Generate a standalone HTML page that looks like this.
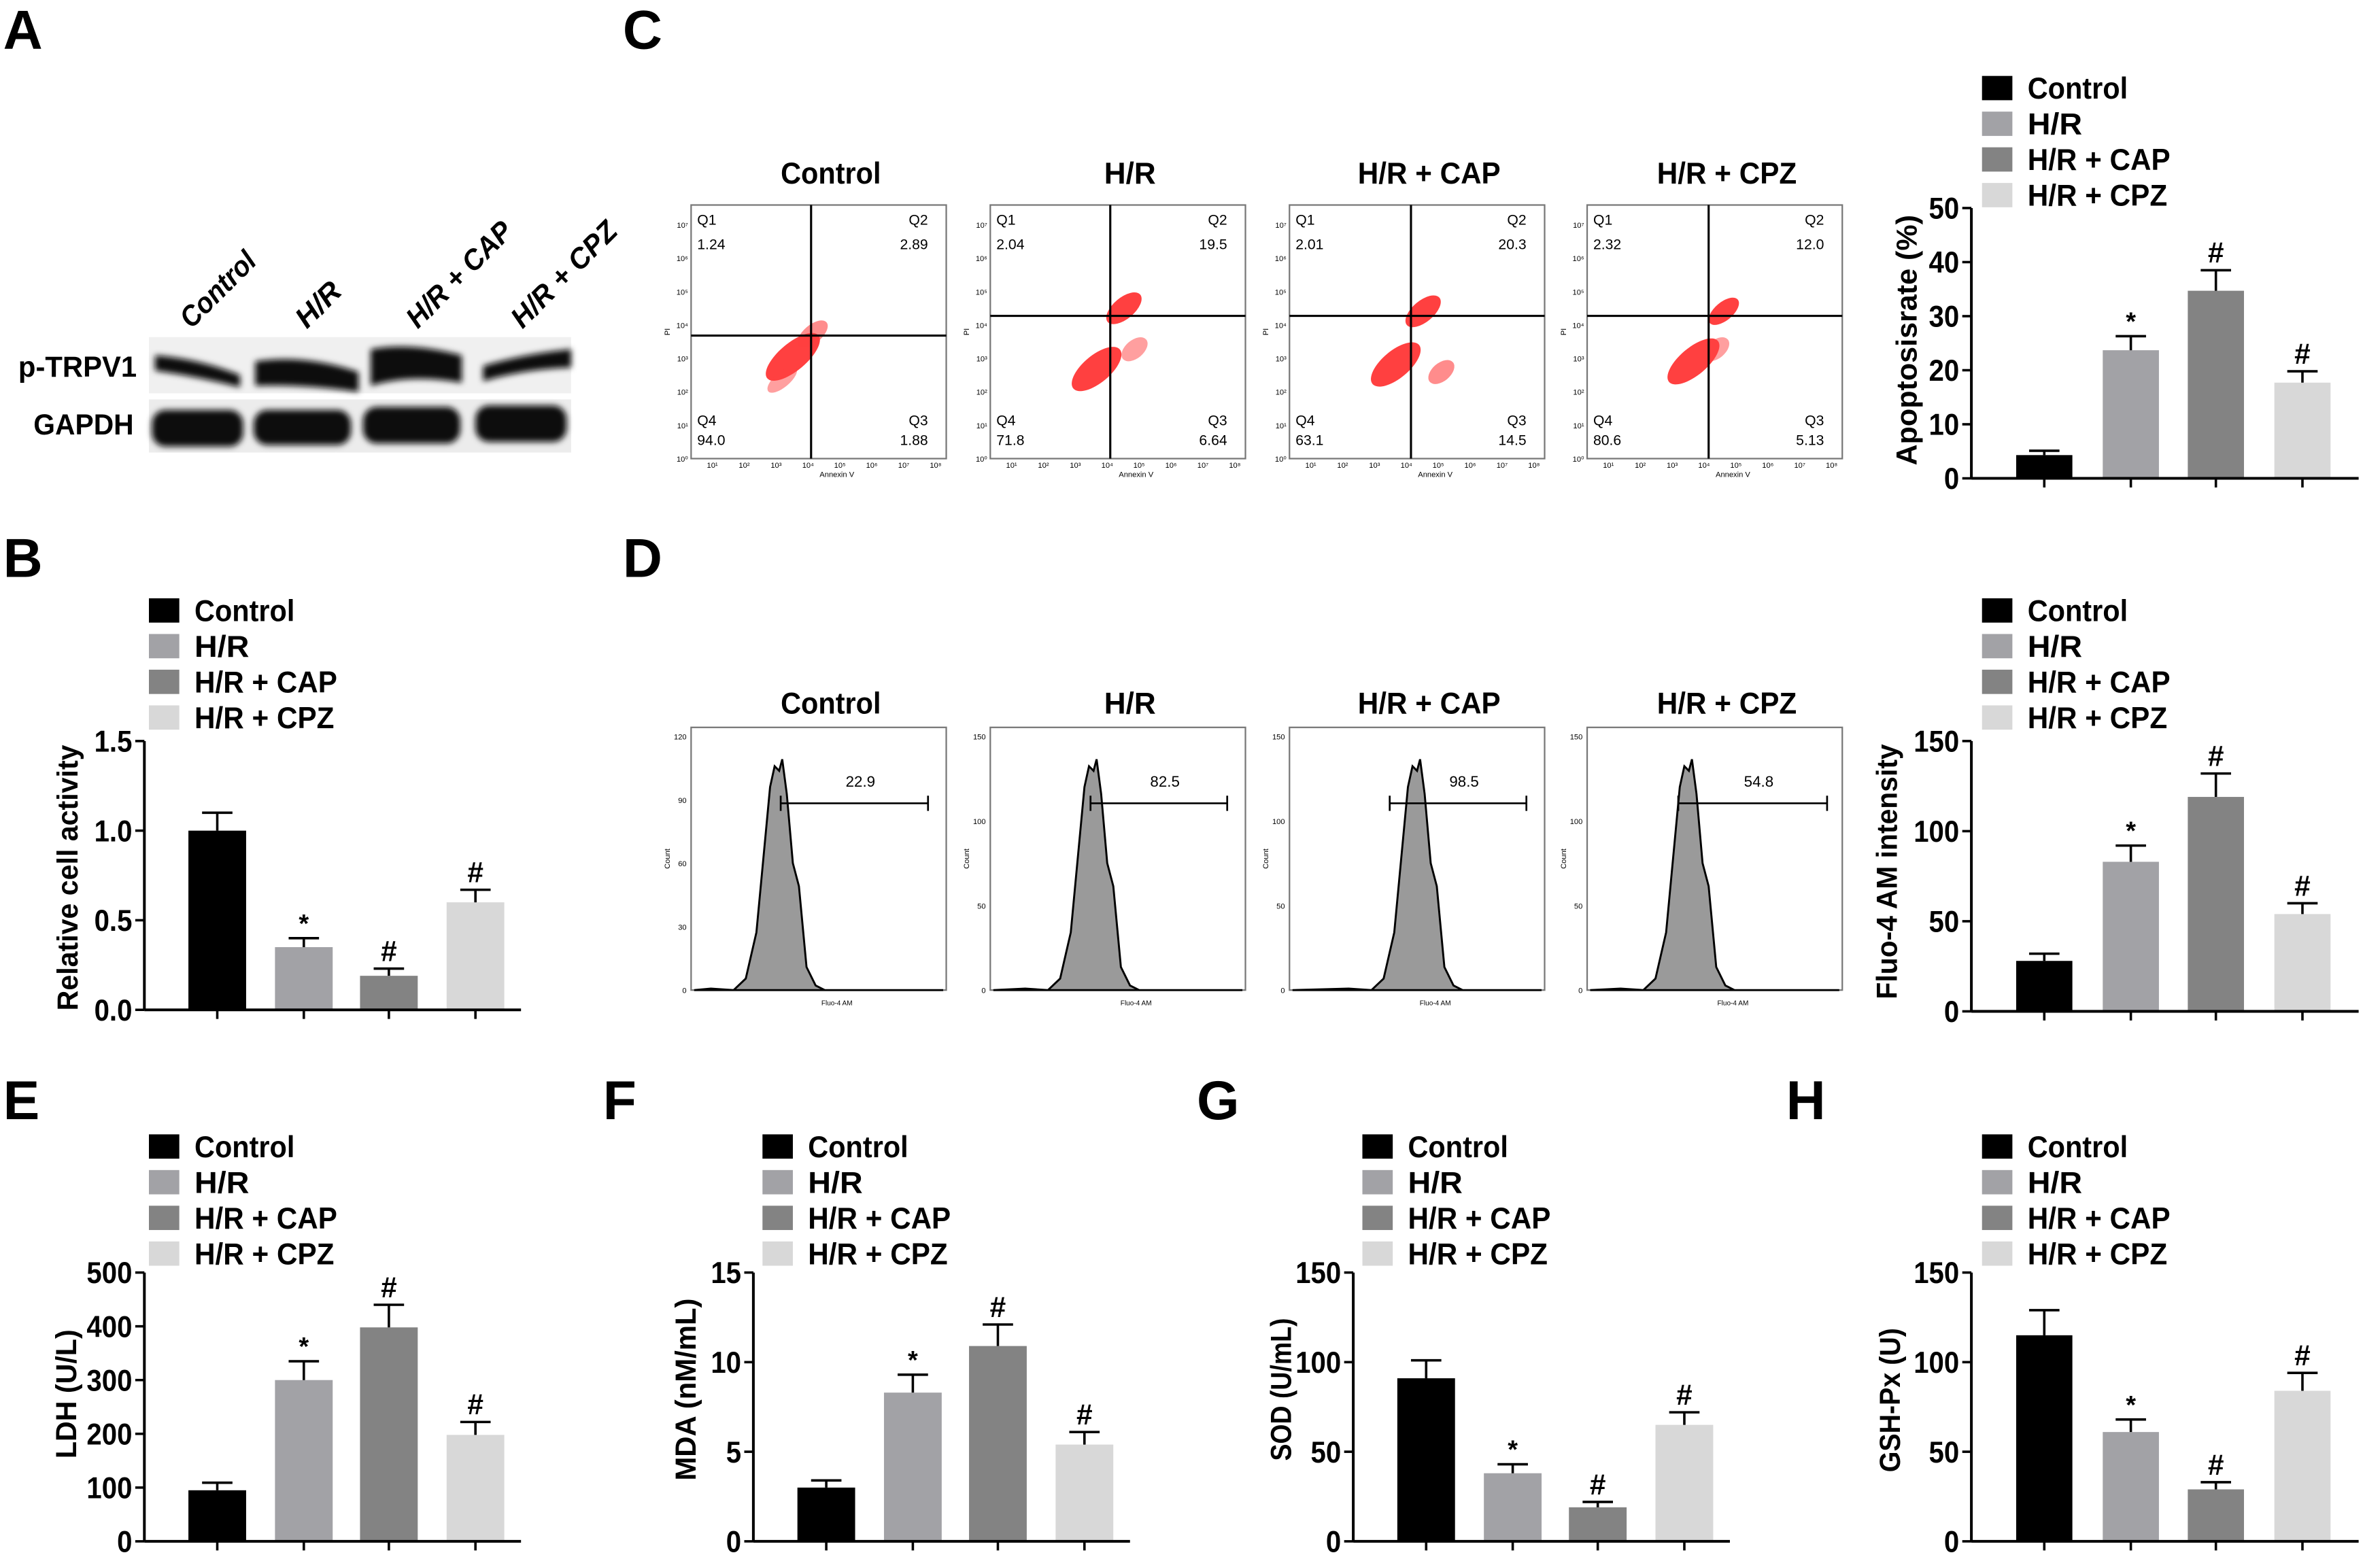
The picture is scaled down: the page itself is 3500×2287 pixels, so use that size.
<!DOCTYPE html>
<html><head><meta charset="utf-8">
<style>
html,body{margin:0;padding:0;background:#fff;}
svg{display:block;}
text{font-family:"Liberation Sans Narrow","Liberation Sans",sans-serif;font-weight:bold;}
.thin{font-family:"Liberation Sans",sans-serif;font-weight:normal;}
</style></head>
<body>
<svg id="fig" xmlns="http://www.w3.org/2000/svg" width="3500" height="2287" viewBox="0 0 1567 1024">
<rect x="0" y="0" width="1567" height="1024" fill="#fff"/>
<g font-size="36">
<text x="2" y="32">A</text>
<text x="2" y="380">B</text>
<text x="410" y="32">C</text>
<text x="410" y="380">D</text>
<text x="2" y="737">E</text>
<text x="397" y="737">F</text>
<text x="788" y="737">G</text>
<text x="1176" y="737">H</text>
</g>
<g>
<defs><filter id="blur" x="-20%" y="-50%" width="140%" height="200%"><feGaussianBlur stdDeviation="2"/></filter></defs>
<rect x="98" y="222" width="278" height="37" fill="#f0f0f0"/>
<rect x="98" y="263" width="278" height="35" fill="#ececec"/>
<g filter="url(#blur)" fill="#080808">
<path d="M102,234 Q130,236 158,247 L158,255 Q130,248 102,244 Z"/>
<path d="M168,238 Q200,233 236,245 L236,258 Q200,253 168,254 Z"/>
<path d="M244,230 Q270,225 304,234 L304,252 Q270,246 244,254 Z"/>
<path d="M318,241 Q345,233 376,230 L376,242 Q345,243 318,251 Z"/>
<rect x="100" y="270" width="60" height="24" rx="9"/>
<rect x="167" y="270" width="64" height="23" rx="9"/>
<rect x="239" y="268" width="64" height="24" rx="9"/>
<rect x="313" y="267" width="60" height="24" rx="9"/>
</g>
<text x="12" y="248" font-size="19" textLength="78" lengthAdjust="spacingAndGlyphs">p-TRPV1</text>
<text x="22" y="286" font-size="19" textLength="66" lengthAdjust="spacingAndGlyphs">GAPDH</text>
<g font-size="19" font-style="italic">
<text transform="translate(126,217) rotate(-45)" textLength="62" lengthAdjust="spacingAndGlyphs">Control</text>
<text transform="translate(202,217) rotate(-45)" textLength="34" lengthAdjust="spacingAndGlyphs">H/R</text>
<text transform="translate(275,217) rotate(-45)" textLength="90" lengthAdjust="spacingAndGlyphs">H/R + CAP</text>
<text transform="translate(344,217) rotate(-45)" textLength="90" lengthAdjust="spacingAndGlyphs">H/R + CPZ</text>
</g>
</g>
<g id="flow"></g>
<g id="hist"></g>
<g id="bars"></g>
</svg>
<script>
const NS='http://www.w3.org/2000/svg';
function mk(tag,attrs,parent,txt){const e=document.createElementNS(NS,tag);for(const k in attrs)e.setAttribute(k,attrs[k]);if(txt!==undefined)e.textContent=txt;parent.appendChild(e);return e;}

const groups=['Control','H/R','H/R + CAP','H/R + CPZ'];
const legendLen=[66,36,94,92];
const colors=['#000000','#a2a2a6','#838383','#d8d8d8'];
const sigMarks=['','*','#','#'];

const apopVals=[4.3,23.7,34.7,17.7];
const apopErr=[0.8,2.6,3.8,2.1];
const apopTicks=[0,10,20,30,40,50];
const fluoVals=[28,83,119,54];
const fluoErr=[4,9,13,6];
const fluoTicks=[0,50,100,150];
const cellVals=[1.0,0.35,0.19,0.6];
const cellErr=[0.1,0.05,0.04,0.07];
const cellTicks=['0.0','0.5','1.0','1.5'];
const ldhVals=[95,300,398,198];
const ldhErr=[14,35,42,24];
const ldhTicks=[0,100,200,300,400,500];
const mdaVals=[3.0,8.3,10.9,5.4];
const mdaErr=[0.4,1.0,1.2,0.7];
const mdaTicks=[0,5,10,15];
const sodVals=[91,38,19,65];
const sodErr=[10,5,3,7];
const sodTicks=[0,50,100,150];
const gshVals=[115,61,29,84];
const gshErr=[14,7,4,10];
const gshTicks=[0,50,100,150];

const quadQ1=['1.24','2.04','2.01','2.32'];
const quadQ2=['2.89','19.5','20.3','12.0'];
const quadQ3=['1.88','6.64','14.5','5.13'];
const quadQ4=['94.0','71.8','63.1','80.6'];
const gateVals=['22.9','82.5','98.5','54.8'];
const histYMax=[120,150,150,150];

const barsG=document.getElementById('bars');

function barChart(o){
  const g=mk('g',{},barsG);
  
  
  const tmin=0,tmax=Number(o.ticks[o.ticks.length-1]);
  const y=v=>o.y0-(v-tmin)/(tmax-tmin)*(o.y0-o.y1);
  const x=i=>o.ax+o.off[i];
  o.vals.forEach((v,i)=>{
    const r=mk('rect',{x:x(i)-o.bw/2,y:y(v),width:o.bw,height:o.y0-y(v),fill:colors[i]},g);
    
    
    const top=y(v+o.err[i]);
    const e=mk('path',{d:`M${x(i)},${y(v)} V${top} M${x(i)-10},${top} H${x(i)+10}`,stroke:'#000','stroke-width':1.6,fill:'none'},g);
    
    
    if(sigMarks[i]){
      const s=mk('text',{x:x(i),y:top-(sigMarks[i]=='*'?4:5),'text-anchor':'middle','font-size':sigMarks[i]=='*'?17:19},g,sigMarks[i]);
      
      
    }
  });
  const ya=mk('path',{d:`M${o.ax},${o.y1} V${o.y0}`,stroke:'#000','stroke-width':1.8},g);
  
  
  const xa=mk('path',{d:`M${o.ax},${o.y0} H${o.ax+o.xlen}`,stroke:'#000','stroke-width':1.8},g);
  
  
  o.vals.forEach((v,i)=>{
    const t=mk('path',{d:`M${x(i)},${o.y0} V${o.y0+6}`,stroke:'#000','stroke-width':1.6},g);
    
    
  });
  o.ticks.forEach(tk=>{
    const yy=y(Number(tk));
    const t=mk('path',{d:`M${o.ax-6},${yy} H${o.ax}`,stroke:'#000','stroke-width':1.6},g);
    
    
    const s=String(tk);
    const l=mk('text',{x:o.ax-8,y:yy+7,'text-anchor':'end','font-size':20,textLength:s.length*10-(s.includes('.')?5:0),lengthAdjust:'spacingAndGlyphs'},g,s);
    
    
  });
  const tt=mk('text',{transform:`translate(${o.titleX},${o.titleY}) rotate(-90)`,'text-anchor':'middle','font-size':19,textLength:o.titleLen,lengthAdjust:'spacingAndGlyphs'},g,o.title);
  
  
  groups.forEach((n,i)=>{
    const ly=o.legY+i*23.5;
    const r=mk('rect',{x:o.legX,y:ly-15,width:20,height:16,fill:colors[i]},g);
    
    
    const t=mk('text',{x:o.legX+30,y:ly,'font-size':20,textLength:legendLen[i],lengthAdjust:'spacingAndGlyphs'},g,n);
    
    
  });
}
const off=[48,105,161,218];
barChart({name:'apoptosis-rate-chart',key:'apoptosis',vals:apopVals,err:apopErr,ticks:apopTicks,ax:1298,y0:315,y1:137,off:off,bw:37,xlen:255,title:'Apoptosisrate (%)',titleX:1262,titleY:224,titleLen:165,legX:1305,legY:65});
barChart({name:'fluo4-intensity-chart',key:'fluo4',vals:fluoVals,err:fluoErr,ticks:fluoTicks,ax:1298,y0:666,y1:488,off:off,bw:37,xlen:255,title:'Fluo-4 AM intensity',titleX:1249,titleY:574,titleLen:168,legX:1305,legY:409});
barChart({name:'cell-activity-chart',key:'cell-activity',vals:cellVals,err:cellErr,ticks:cellTicks,ax:95,y0:665,y1:488,off:off,bw:38,xlen:248,title:'Relative cell activity',titleX:51,titleY:578,titleLen:175,legX:98,legY:409});
barChart({name:'ldh-chart',key:'ldh',vals:ldhVals,err:ldhErr,ticks:ldhTicks,ax:95,y0:1015,y1:838,off:off,bw:38,xlen:248,title:'LDH (U/L)',titleX:50,titleY:918,titleLen:85,legX:98,legY:762});
barChart({name:'mda-chart',key:'mda',vals:mdaVals,err:mdaErr,ticks:mdaTicks,ax:496,y0:1015,y1:838,off:off,bw:38,xlen:248,title:'MDA (nM/mL)',titleX:458,titleY:915,titleLen:120,legX:502,legY:762});
barChart({name:'sod-chart',key:'sod',vals:sodVals,err:sodErr,ticks:sodTicks,ax:891,y0:1015,y1:838,off:off,bw:38,xlen:248,title:'SOD (U/mL)',titleX:850,titleY:915,titleLen:94,legX:897,legY:762});
barChart({name:'gsh-px-chart',key:'gsh',vals:gshVals,err:gshErr,ticks:gshTicks,ax:1298,y0:1015,y1:838,off:off,bw:37,xlen:255,title:'GSH-Px (U)',titleX:1251,titleY:922,titleLen:95,legX:1305,legY:762});

const flowG=document.getElementById('flow');
const flowLeft=[455,652,849,1045];
const vLine=[534,731,929,1125];
const hLine=[221,208,208,208];
const clusters=[
 [[67,100,22,9,1],[80,85,12,6,0.6],[60,115,12,5,0.5]],
 [[70,108,20,9,1],[88,68,14,7,1],[95,95,10,6,0.5]],
 [[70,105,20,9,1],[88,70,14,7,1],[100,110,10,6,0.6]],
 [[70,103,21,9,1],[90,70,12,6,1],[85,95,10,6,0.5]]
];
const logTicks=['10⁰','10¹','10²','10³','10⁴','10⁵','10⁶','10⁷'];
groups.forEach((n,i)=>{
  const L=flowLeft[i],T=135,W=168,H=167;
  const g=mk('g',{},flowG);
  
  
  const tt=mk('text',{x:L+W/2+8,y:121,'text-anchor':'middle','font-size':20,textLength:[66,34,94,92][i],lengthAdjust:'spacingAndGlyphs'},g,n);
  
  
  const b=mk('rect',{x:L,y:T,width:W,height:H,fill:'#fff',stroke:'#777','stroke-width':1},g);
  
  
  clusters[i].forEach((c,k)=>{
    const e=mk('ellipse',{cx:L+c[0],cy:T+c[1],rx:c[2],ry:c[3],fill:'#ff4040',opacity:c[4],transform:`rotate(-40 ${L+c[0]} ${T+c[1]})`},g);
    
    
  });
  const ln=mk('path',{d:`M${vLine[i]},${T} V${T+H} M${L},${hLine[i]} H${L+W}`,stroke:'#000','stroke-width':1.4},g);
  
  
  const labs=[['Q1',L+4,148,'start'],[quadQ1[i],L+4,164,'start'],['Q2',L+W-12,148,'end'],[quadQ2[i],L+W-12,164,'end'],
              ['Q4',L+4,280,'start'],[quadQ4[i],L+4,293,'start'],['Q3',L+W-12,280,'end'],[quadQ3[i],L+W-12,293,'end']];
  labs.forEach(q=>{
    const t=mk('text',{x:q[1],y:q[2],'text-anchor':q[3],'font-size':9.5,class:'thin'},g,q[0]);
    
    
  });
  logTicks.forEach((lt,k)=>{
    const t=mk('text',{x:L-2,y:T+H-k*22+2,'text-anchor':'end','font-size':5,class:'thin'},g,lt);
    
    
    const t2=mk('text',{x:L+14+k*21,y:T+H+6,'text-anchor':'middle','font-size':5,class:'thin'},g,'10'+['¹','²','³','⁴','⁵','⁶','⁷','⁸'][k]);
    
    
  });
  const ya=mk('text',{transform:`translate(${L-14},${T+H/2}) rotate(-90)`,'font-size':5,class:'thin','text-anchor':'middle'},g,'PI');
  
  
  const xa=mk('text',{x:L+W/2+12,y:T+H+12,'font-size':5,class:'thin','text-anchor':'middle'},g,'Annexin V');
  
  
});

const histG=document.getElementById('hist');
const histLeft=[455,652,849,1045];
const peakX=[513,720,933,1112];
const gateL=[514,718,915,1105];
const gateR=[611,808,1005,1203];
const shapeDX=[-30,-22,-15,-10,-6,-3,0,2,5,9,13,18,24,30];
const shapeH=[0,0.05,0.25,0.6,0.88,0.97,0.95,1.0,0.85,0.55,0.45,0.1,0.02,0];
groups.forEach((n,i)=>{
  const L=histLeft[i],T=479,W=168,B=652;
  const g=mk('g',{},histG);
  
  
  const tt=mk('text',{x:L+W/2+8,y:470,'text-anchor':'middle','font-size':20,textLength:[66,34,94,92][i],lengthAdjust:'spacingAndGlyphs'},g,n);
  
  
  const b=mk('rect',{x:L,y:T,width:W,height:B-T,fill:'#fff',stroke:'#777','stroke-width':1},g);
  
  
  const ph=B-500;
  let d=`M${L+2},${B} L${peakX[i]-45},${B-1} `;
  shapeDX.forEach((dx,k)=>{d+=`L${peakX[i]+dx},${B-shapeH[k]*ph} `;});
  d+=`L${L+W-2},${B} Z`;
  const p=mk('path',{d:d,fill:'#9a9a9a',stroke:'#000','stroke-width':1.3},g);
  
  
  const gt=mk('path',{d:`M${gateL[i]},529 H${gateR[i]} M${gateL[i]},524 V534 M${gateR[i]},524 V534`,stroke:'#000','stroke-width':1.2},g);
  
  
  const gv=mk('text',{x:(gateL[i]+gateR[i])/2+4,y:518,'text-anchor':'middle','font-size':10,class:'thin'},g,gateVals[i]);
  
  
  const mx=histYMax[i],step=mx==120?30:50;
  for(let v=0;v<=mx;v+=step){
    const yy=B-v/mx*(B-485);
    const t=mk('text',{x:L-3,y:yy+2,'text-anchor':'end','font-size':5,class:'thin'},g,String(v));
    
    
  }
  const ya=mk('text',{transform:`translate(${L-14},${(T+B)/2}) rotate(-90)`,'font-size':5,class:'thin','text-anchor':'middle'},g,'Count');
  
  
  const xa=mk('text',{x:L+W/2+12,y:B+10,'font-size':4.5,class:'thin','text-anchor':'middle'},g,'Fluo-4 AM');
  
  
});
</script>
</body></html>
